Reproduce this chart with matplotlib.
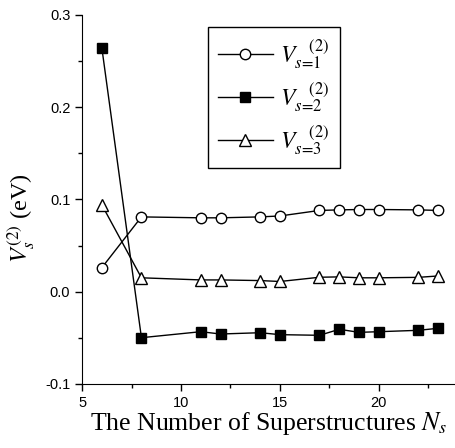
import matplotlib
matplotlib.use('Agg')
import matplotlib.pyplot as plt
from matplotlib.ticker import MultipleLocator

plt.rcParams['mathtext.fontset'] = 'stix'
plt.rcParams['axes.unicode_minus'] = False

# number of superstructures
n_s = [6, 8, 11, 12, 14, 15, 17, 18, 19, 20, 22, 23]

v_s1 = [0.026, 0.081, 0.080, 0.080, 0.081, 0.082, 0.088, 0.0886, 0.089, 0.089, 0.0886, 0.088]
v_s2 = [0.264, -0.0499, -0.0434, -0.0459, -0.0445, -0.0466, -0.0473, -0.0408, -0.0441, -0.0434, -0.0419, -0.0397]
v_s3 = [0.094, 0.015, 0.0127, 0.0127, 0.012, 0.011, 0.0156, 0.016, 0.015, 0.015, 0.0155, 0.017]

labels = [r'$V_{s\!=\!1}^{\quad(2)}$', r'$V_{s\!=\!2}^{\quad(2)}$', r'$V_{s\!=\!3}^{\quad(2)}$']

fig = plt.figure(figsize=(4.56, 4.48), dpi=100)
ax = fig.add_axes([0.18, 0.143, 0.82, 0.824])

ax.plot(n_s, v_s1, marker='o', color='black', mfc='white', mec='black', ms=7.5, lw=1, label=labels[0])
ax.plot(n_s, v_s2, marker='s', color='black', mfc='black', mec='black', ms=6.5, lw=1, label=labels[1])
ax.plot(n_s, v_s3, marker='^', color='black', mfc='white', mec='black', ms=8, lw=1, label=labels[2])

ax.set_xlim(5, 23.9)
ax.set_ylim(-0.1, 0.3)
ax.xaxis.set_major_locator(MultipleLocator(5))
ax.xaxis.set_minor_locator(MultipleLocator(2.5))
ax.yaxis.set_major_locator(MultipleLocator(0.1))
ax.yaxis.set_minor_locator(MultipleLocator(0.05))
ax.spines['top'].set_visible(False)
ax.spines['right'].set_visible(False)
ax.tick_params(which='major', direction='out', length=5, width=1, labelsize=10.5)
ax.tick_params(which='minor', direction='out', length=3, width=1)
for lab in ax.get_xticklabels() + ax.get_yticklabels():
    lab.set_family('Liberation Sans')

ax.set_xlabel(r'The Number of Superstructures $N_s$', family='Liberation Serif', fontsize=18.5, labelpad=0)
ax.set_ylabel(r'$V_s^{(2)}$ (eV)', family='Liberation Serif', fontsize=17.5)
ax.yaxis.set_label_coords(-0.12, 0.45)

leg = ax.legend(loc='upper left', bbox_to_anchor=(0.336, 0.968), borderaxespad=0,
                fontsize=17, handlelength=2.3, labelspacing=0.4, fancybox=False,
                edgecolor='black', framealpha=1, handletextpad=0.3, borderpad=0.45)
leg.get_frame().set_linewidth(1)

fig.savefig('out.png', dpi=100)
